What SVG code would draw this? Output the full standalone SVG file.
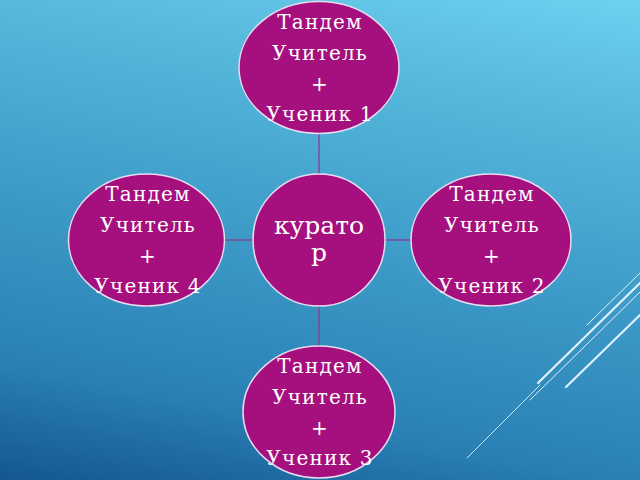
<svg xmlns="http://www.w3.org/2000/svg" width="640" height="480" viewBox="0 0 640 480">
<defs>
<linearGradient id="bg" gradientUnits="userSpaceOnUse" x1="640" y1="0" x2="531" y2="580">
<stop offset="0" stop-color="#6dd1f0"/>
<stop offset="0.2" stop-color="#57b9dd"/>
<stop offset="0.5" stop-color="#3e9cc9"/>
<stop offset="0.8" stop-color="#2a80b5"/>
<stop offset="1" stop-color="#13578f"/>
</linearGradient>
<style>
.node{fill:#a50f7e;stroke:#e6dcef;stroke-width:1.5}
.conn{stroke:#8c3c90;stroke-width:1.3;fill:none}
.t{font-family:"DejaVu Serif","Liberation Serif",serif;font-size:20px;letter-spacing:1.2px;fill:#ffffff;text-anchor:middle}
.c{font-family:"DejaVu Serif","Liberation Serif",serif;font-size:25px;fill:#ffffff;text-anchor:middle}
.deco{stroke:#dff2fb;fill:none;stroke-linecap:round}
</style>
</defs>
<rect width="640" height="480" fill="url(#bg)"/>
<g id="decor">
<line class="deco" x1="587" y1="325" x2="640" y2="273" stroke-width="1"/>
<line class="deco" x1="538" y1="383" x2="640" y2="283" stroke-width="2.2"/>
<line class="deco" x1="530" y1="400" x2="640" y2="292" stroke-width="1"/>
<line class="deco" x1="566" y1="387" x2="640" y2="315" stroke-width="2.2"/>
<line class="deco" x1="467" y1="458" x2="540" y2="385" stroke-width="0.9"/>
</g>
<g id="connectors">
<line class="conn" x1="319" y1="134" x2="319" y2="174"/>
<line class="conn" x1="319" y1="305" x2="319" y2="346"/>
<line class="conn" x1="224" y1="240" x2="253" y2="240"/>
<line class="conn" x1="385" y1="240" x2="411" y2="240"/>
</g>
<g id="node-top">
<ellipse class="node" cx="319" cy="67.5" rx="80" ry="66"/>
<text class="t" x="320" y="29">Тандем</text>
<text class="t" x="320" y="60">Учитель</text>
<text class="t" x="320" y="91">+</text>
<text class="t" x="320" y="121">Ученик 1</text>
</g>
<g id="node-center">
<ellipse class="node" cx="319" cy="240" rx="66" ry="66"/>
<text class="c" x="319" y="234">курато</text>
<text class="c" x="319" y="261">р</text>
</g>
<g id="node-left">
<ellipse class="node" cx="146.5" cy="240" rx="78" ry="66"/>
<text class="t" x="148" y="201">Тандем</text>
<text class="t" x="148" y="232">Учитель</text>
<text class="t" x="148" y="263">+</text>
<text class="t" x="148" y="293">Ученик 4</text>
</g>
<g id="node-right">
<ellipse class="node" cx="491" cy="240" rx="80" ry="66"/>
<text class="t" x="492" y="201">Тандем</text>
<text class="t" x="492" y="232">Учитель</text>
<text class="t" x="492" y="263">+</text>
<text class="t" x="492" y="293">Ученик 2</text>
</g>
<g id="node-bottom">
<ellipse class="node" cx="319" cy="412" rx="76" ry="66"/>
<text class="t" x="320" y="373">Тандем</text>
<text class="t" x="320" y="404">Учитель</text>
<text class="t" x="320" y="435">+</text>
<text class="t" x="320" y="465">Ученик 3</text>
</g>
</svg>
